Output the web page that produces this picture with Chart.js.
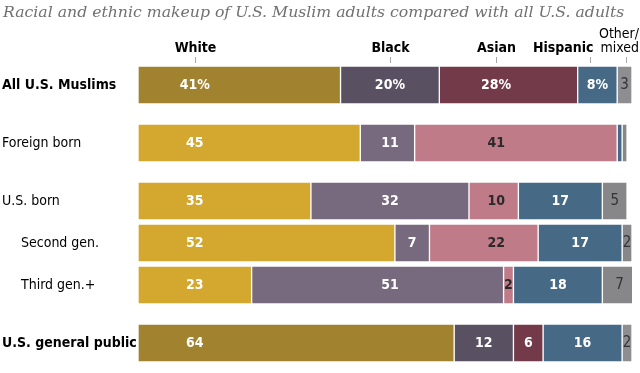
<!DOCTYPE html>
<html>
<head>
<meta charset="utf-8">
<script src="https://cdn.jsdelivr.net/npm/chart.js@4"></script>
<style>
  body { margin: 0; background: #fff; }
  #wrap { width: 640px; height: 373px; position: relative; }
</style>
</head>
<body>
<div id="wrap"><canvas id="chart"></canvas></div>
<script>
// Rows of the chart and the group each one belongs to (groups get extra space between them)
const categories = ['All U.S. Muslims', 'Foreign born', 'U.S. born', 'Second gen.', 'Third gen.+', 'U.S. general public'];
const groups = [0, 1, 2, 2, 2, 3];
const races = ['White', 'Black', 'Asian', 'Hispanic', 'Other/\nmixed'];

// Percentages per row
const white    = [41, 45, 35, 52, 23, 64];
const black    = [20, 11, 32,  7, 51, 12];
const asian    = [28, 41, 10, 22,  2,  6];
const hispanic = [ 8,  1, 17, 17, 18, 16];
const other    = [ 3,  1,  5,  2,  7,  2];

const series = [white, black, asian, hispanic, other];

// Styling
const darkColors  = ['#a0822f', '#595062', '#733b49', '#466a86', '#8e8e91'];
const lightColors = ['#d4a82f', '#786a7e', '#c07b88', '#466a86', '#87878a'];
const boldRows = [0, 5];
const headerTicks = [11.5, 51, 72.5, 91.5, 98.8];  // where each column header sits, in % units
const labelCols   = [11.5, 51, 72.5, null, null];   // preferred label spot for wide segments
const GAP = 0.38;

function rowPos(i) { return i + groups[i] * GAP; }

const datasets = races.map((race, d) => ({
  label: race,
  data: series[d].map((v, i) => ({ x: v, y: rowPos(i) })),
  backgroundColor: categories.map((c, i) => boldRows.includes(i) ? darkColors[d] : lightColors[d]),
  borderColor: '#ffffff',
  borderWidth: 1,
  borderSkipped: false,
  barThickness: 38
}));

const textPlugin = {
  id: 'texts',
  afterDatasetsDraw(chart) {
    const ctx = chart.ctx;
    const xs = chart.scales.x, ys = chart.scales.y;
    ctx.save();

    // title
    ctx.fillStyle = '#707070';
    ctx.font = 'italic 15.7px "DejaVu Serif"';
    ctx.textAlign = 'left';
    ctx.textBaseline = 'middle';
    ctx.fillText('Racial and ethnic makeup of U.S. Muslim adults compared with all U.S. adults', 3, 13);

    // column headers + small ticks
    ctx.fillStyle = '#000';
    ctx.strokeStyle = '#aaa';
    ctx.lineWidth = 1;
    races.forEach((race, d) => {
      const x = Math.round(xs.getPixelForValue(headerTicks[d])) + 0.5;
      ctx.beginPath();
      ctx.moveTo(x, 57);
      ctx.lineTo(x, 63);
      ctx.stroke();
      if (d < 3) {
        ctx.font = 'bold 14px "DejaVu Sans Condensed"';
        ctx.textAlign = 'center';
        ctx.fillText(race, x, 48);
      } else if (d === 3) {
        ctx.font = 'bold 14px "DejaVu Sans Condensed"';
        ctx.textAlign = 'right';
        ctx.fillText(race, x + 3, 48);
      } else {
        ctx.font = '14px "DejaVu Sans Condensed"';
        ctx.textAlign = 'right';
        const lines = race.split('\n');
        ctx.fillText(lines[0], chart.width - 1, 34);
        ctx.fillText(lines[1], chart.width - 1, 48);
      }
    });

    // row labels
    categories.forEach((c, i) => {
      const y = ys.getPixelForValue(rowPos(i));
      const bold = boldRows.includes(i);
      ctx.font = (bold ? 'bold ' : '') + '14px "DejaVu Sans Condensed"';
      ctx.textAlign = 'left';
      ctx.fillStyle = '#000';
      const indent = (i === 3 || i === 4) ? 21 : 2;
      ctx.fillText(c, indent, y);
    });

    // value labels on segments
    datasets.forEach((ds, d) => {
      const meta = chart.getDatasetMeta(d);
      meta.data.forEach((bar, i) => {
        const v = series[d][i];
        if (v < 2) return;
        const left = Math.min(bar.base, bar.x), right = Math.max(bar.base, bar.x);
        let x = (left + right) / 2;
        if (labelCols[d] !== null) {
          const cx = xs.getPixelForValue(labelCols[d]);
          if (cx > left + 14 && cx < right - 14) x = cx;
        }
        const bold = boldRows.includes(i);
        const txt = String(v) + (i === 0 && d < 4 ? '%' : '');
        if (d === 4) {
          ctx.font = '15px "DejaVu Sans Condensed"';
          ctx.fillStyle = '#333333';
        } else {
          ctx.font = 'bold 14px "DejaVu Sans Condensed"';
          ctx.fillStyle = (d === 2 && !bold) ? '#2a2a2a' : '#ffffff';
        }
        ctx.textAlign = 'center';
        ctx.fillText(txt, x, bar.y);
      });
    });
    ctx.restore();
  }
};

new Chart(document.getElementById('chart'), {
  type: 'bar',
  data: { datasets: datasets },
  options: {
    indexAxis: 'y',
    responsive: true,
    maintainAspectRatio: false,
    animation: false,
    layout: { padding: { top: 64, left: 138, right: 8, bottom: 9 } },
    scales: {
      x: { type: 'linear', stacked: true, min: 0, max: 100, display: false },
      y: { type: 'linear', stacked: true, reverse: true, offset: false, min: -0.5, max: rowPos(5) + 0.5, display: false }
    },
    plugins: {
      legend: { display: false },
      tooltip: { enabled: false }
    }
  },
  plugins: [textPlugin]
});
</script>
</body>
</html>
